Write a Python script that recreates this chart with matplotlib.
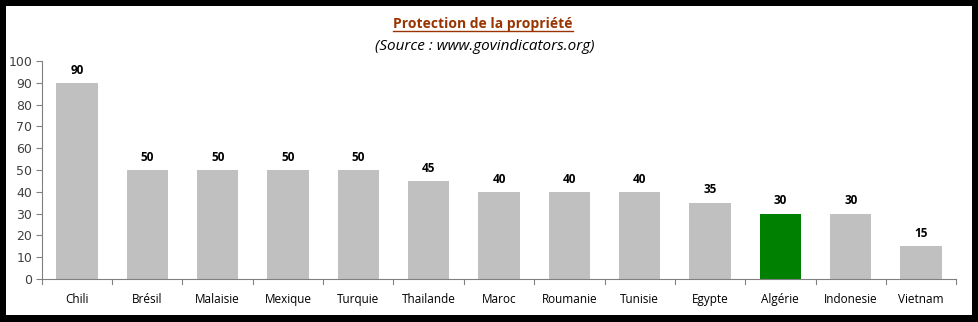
import matplotlib
matplotlib.use("Agg")
import matplotlib.pyplot as plt
from matplotlib.patches import Rectangle
from matplotlib.lines import Line2D

pays = ['Chili', 'Brésil', 'Malaisie', 'Mexique', 'Turquie', 'Thailande', 'Maroc',
        'Roumanie', 'Tunisie', 'Egypte', 'Algérie', 'Indonesie', 'Vietnam']
valeurs = [90, 50, 50, 50, 50, 45, 40, 40, 40, 35, 30, 30, 15]
pays_en_vert = 'Algérie'
yticks = [0, 10, 20, 30, 40, 50, 60, 70, 80, 90, 100]

W, H = 979, 322
fig = plt.figure(figsize=(W / 100, H / 100), dpi=100)
fig.patch.set_facecolor('black')
# fond blanc avec cadre noir
fig.patches.append(Rectangle((6 / W, 1 - 315 / H), (972 - 6) / W, (315 - 6) / H,
                             transform=fig.transFigure, facecolor='white',
                             edgecolor='none', zorder=-5))

ax = fig.add_axes([41.8 / W, 1 - 279 / H, (956.2 - 41.8) / W, (279 - 61) / H])
ax.patch.set_visible(False)

couleurs = ['#008000' if p == pays_en_vert else '#c0c0c0' for p in pays]
x = list(range(len(pays)))
bars = ax.bar(x, valeurs, width=0.59, color=couleurs)

for xi, v in zip(x, valeurs):
    ax.annotate(str(v), (xi, v), xytext=(0, 4.5), textcoords='offset points',
                ha='center', va='bottom', fontsize=8.5, fontweight='bold',
                family='Open Sans', color='black')

ax.set_xlim(-0.5, len(pays) - 0.5)
ax.set_ylim(0, 100)
ax.set_yticks(yticks)
ax.set_yticklabels([str(t) for t in yticks], fontsize=9, color='#404040', family='DejaVu Sans')
ax.set_xticks(x)
ax.set_xticklabels(pays, fontsize=8.5, family='Open Sans', color='black')
ax.tick_params(axis='x', length=0, pad=10)
ax.tick_params(axis='y', length=4, color='#808080', width=0.8, pad=3)
# petits traits entre les categories
for b in range(len(pays) + 1):
    ax.plot([b - 0.5, b - 0.5], [0, -2.2], color='#808080', lw=0.8, clip_on=False)

for s in ['top', 'right']:
    ax.spines[s].set_visible(False)
for s in ['left', 'bottom']:
    ax.spines[s].set_color('#808080')
    ax.spines[s].set_linewidth(0.8)

titre = fig.text(483 / W, 1 - 24 / H, 'Protection de la propriété', ha='center', va='center',
                 fontsize=10, fontweight='bold', color='#993300', family='Open Sans')
fig.text(485 / W, 1 - 47 / H, '(Source : www.govindicators.org)', ha='center', va='center',
         fontsize=11, style='italic', color='black', family='Open Sans')

# soulignement du titre
fig.canvas.draw()
bb = titre.get_window_extent().transformed(fig.transFigure.inverted())
fig.lines.append(Line2D([bb.x0, bb.x1], [bb.y0 + 0.5 / H, bb.y0 + 0.5 / H],
                        transform=fig.transFigure, color='#993300', lw=1))

fig.savefig('out.png', dpi=100, facecolor=fig.get_facecolor())
